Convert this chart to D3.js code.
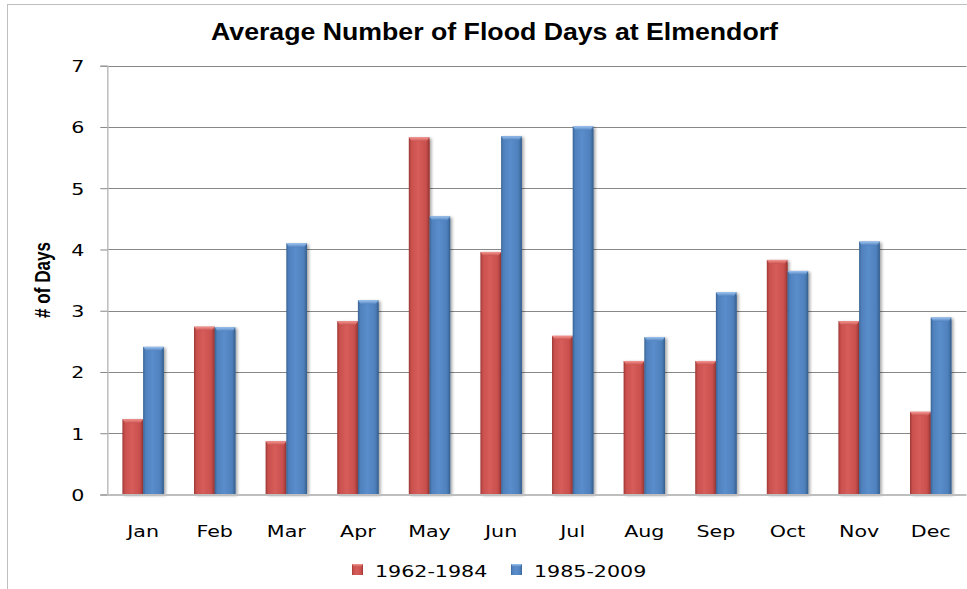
<!DOCTYPE html>
<html>
<head>
<meta charset="utf-8">
<script src="https://cdn.jsdelivr.net/npm/d3@7"></script>
<style>
  html, body { margin: 0; padding: 0; background: #fff; }
  svg { display: block; }
</style>
</head>
<body>
<svg id="chart" width="967" height="589"></svg>
<script>
// ---- data ----
const months = ["Jan","Feb","Mar","Apr","May","Jun","Jul","Aug","Sep","Oct","Nov","Dec"];
const seriesNames = ["1962-1984","1985-2009"];
const values1962_1984 = [1.23, 2.74, 0.87, 2.83, 5.83, 3.96, 2.59, 2.18, 2.18, 3.83, 2.83, 1.35];
const values1985_2009 = [2.41, 2.73, 4.10, 3.17, 4.54, 5.85, 6.01, 2.57, 3.30, 3.65, 4.13, 2.89];
const yTicks = [0, 1, 2, 3, 4, 5, 6, 7];
const titleText = "Average Number of Flood Days at Elmendorf";
const yAxisTitle = "# of Days";

// ---- styling ----
const palette = {
  "1962-1984": { base: "#C9504D", light: "#D65D5A", dark: "#9C3835", cap: "#F49893" },
  "1985-2009": { base: "#4F81BD", light: "#5A8DCB", dark: "#3A6494", cap: "#9CC3F0" }
};
const gridColor = "#878787";
const axisColor = "#BEBEBE";
const sx = 1.25; // horizontal stretch of text seen in the reference

const svg = d3.select("#chart");
const W = 967, H = 589;
const plot = { left: 107.3, right: 966.5, top: 65.7, bottom: 494.5 };

svg.append("rect").attr("width", W).attr("height", H).attr("fill", "#fff");

// chart frame (only left & top visible)
svg.append("rect")
  .attr("x", 7.5).attr("y", 4.5).attr("width", 1100).attr("height", 1000)
  .attr("fill", "none").attr("stroke", "#BFBFBF").attr("stroke-width", 1);

const defs = svg.append("defs");
const shadow = defs.append("filter").attr("id", "shadow")
  .attr("x", "-50%").attr("y", "-10%").attr("width", "200%").attr("height", "120%");
shadow.append("feGaussianBlur").attr("in", "SourceAlpha").attr("stdDeviation", 1.5).attr("result", "b");
shadow.append("feOffset").attr("in", "b").attr("dx", 2).attr("dy", 1).attr("result", "o");
shadow.append("feComponentTransfer").attr("in", "o").attr("result", "s")
  .append("feFuncA").attr("type", "linear").attr("slope", 0.35);
const merge = shadow.append("feMerge");
merge.append("feMergeNode").attr("in", "s");
merge.append("feMergeNode").attr("in", "SourceGraphic");

seriesNames.forEach((s, i) => {
  const c = palette[s];
  const g = defs.append("linearGradient").attr("id", "grad" + i)
    .attr("x1", "0").attr("x2", "1").attr("y1", "0").attr("y2", "0");
  g.append("stop").attr("offset", "0%").attr("stop-color", c.dark);
  g.append("stop").attr("offset", "12%").attr("stop-color", c.base);
  g.append("stop").attr("offset", "45%").attr("stop-color", c.light);
  g.append("stop").attr("offset", "82%").attr("stop-color", c.base);
  g.append("stop").attr("offset", "100%").attr("stop-color", c.dark);
  const cg = defs.append("linearGradient").attr("id", "cap" + i)
    .attr("x1", "0").attr("x2", "0").attr("y1", "0").attr("y2", "1");
  cg.append("stop").attr("offset", "0%").attr("stop-color", c.cap);
  cg.append("stop").attr("offset", "100%").attr("stop-color", c.base);
});

// ---- scales ----
const x0 = d3.scaleBand().domain(months).range([plot.left, plot.right]).padding(0);
const x1 = d3.scaleBand().domain(seriesNames).range([0, x0.bandwidth()])
  .paddingInner(0).paddingOuter(0.73);
const y = d3.scaleLinear().domain([0, 7]).range([plot.bottom, plot.top]);

// gridlines
svg.append("g").selectAll("line").data(yTicks.filter(d => d > 0)).join("line")
  .attr("x1", plot.left).attr("x2", plot.right)
  .attr("y1", d => Math.round(y(d)) + 0.5).attr("y2", d => Math.round(y(d)) + 0.5)
  .attr("stroke", gridColor).attr("stroke-width", 1);

// y axis with ticks
const yAxis = d3.axisLeft(y).tickValues(yTicks).tickSize(7).tickPadding(16).tickFormat(d3.format("d"));
const yg = svg.append("g").attr("transform", `translate(${plot.left},0)`).call(yAxis);
yg.select(".domain").attr("stroke", axisColor).attr("stroke-width", 1.5);
yg.selectAll(".tick line").attr("stroke", gridColor);
yg.selectAll(".tick text")
  .attr("font-family", "DejaVu Sans, Verdana, sans-serif")
  .attr("font-size", 16.5).attr("fill", "#000")
  .attr("dy", "0.36em")
  .attr("transform", function() {
    const xx = +d3.select(this).attr("x");
    return `translate(${xx},0) scale(${sx},1) translate(${-xx},0)`;
  });

// bars
const data = months.map((m, i) => ({ month: m, vals: [
  { s: seriesNames[0], v: values1962_1984[i], i: 0 },
  { s: seriesNames[1], v: values1985_2009[i], i: 1 }
]}));

const groups = svg.append("g").selectAll("g").data(data).join("g")
  .attr("transform", d => `translate(${x0(d.month)},0)`);

const bars = groups.selectAll("g.bar").data(d => d.vals).join("g").attr("class", "bar");
bars.append("rect")
  .attr("x", d => x1(d.s)).attr("width", x1.bandwidth())
  .attr("y", d => y(d.v)).attr("height", d => y(0) - y(d.v))
  .attr("fill", d => `url(#grad${d.i})`)
  .attr("filter", "url(#shadow)");
bars.append("path")
  .attr("d", d => {
    const xl = x1(d.s), w = x1.bandwidth(), t = y(d.v), b = 4;
    return `M${xl},${t} L${xl + w},${t} L${xl + w - 3},${t + b} L${xl + 3},${t + b} Z`;
  })
  .attr("fill", d => `url(#cap${d.i})`);
bars.append("line")
  .attr("x1", d => x1(d.s) + x1.bandwidth() - 0.5).attr("x2", d => x1(d.s) + x1.bandwidth() - 0.5)
  .attr("y1", d => y(d.v) + 3).attr("y2", y(0))
  .attr("stroke", d => palette[d.s].dark).attr("stroke-width", 1);

// x axis baseline
svg.append("line")
  .attr("x1", plot.left).attr("x2", plot.right)
  .attr("y1", y(0) + 0.5).attr("y2", y(0) + 0.5)
  .attr("stroke", axisColor).attr("stroke-width", 2);

// x labels
const xAxis = d3.axisBottom(x0).tickSize(0).tickPadding(0);
const xg = svg.append("g").attr("transform", `translate(0,${plot.bottom})`).call(xAxis);
xg.select(".domain").remove();
xg.selectAll(".tick text")
  .attr("font-family", "DejaVu Sans, Verdana, sans-serif")
  .attr("font-size", 16.5).attr("fill", "#000")
  .attr("y", 0).attr("dy", 0)
  .attr("transform", `translate(0,42) scale(${sx},1)`);

// title
svg.append("text")
  .attr("x", 494.5).attr("y", 40)
  .attr("text-anchor", "middle")
  .attr("font-family", "Liberation Sans Narrow, Arial Narrow, Liberation Sans, sans-serif")
  .attr("font-weight", "bold").attr("font-size", 24)
  .attr("textLength", 567).attr("lengthAdjust", "spacingAndGlyphs")
  .text(titleText);

// y axis title
svg.append("text")
  .attr("transform", "translate(50,280) rotate(-90)")
  .attr("text-anchor", "middle")
  .attr("font-family", "Liberation Sans Narrow, Arial Narrow, Liberation Sans, sans-serif")
  .attr("font-weight", "bold").attr("font-size", 22)
  .attr("textLength", 76).attr("lengthAdjust", "spacingAndGlyphs")
  .text(yAxisTitle);

// legend
const legendPos = [352, 511];
const lg = svg.append("g").selectAll("g").data(seriesNames).join("g")
  .attr("transform", (d, i) => `translate(${legendPos[i]},0)`);
lg.append("rect").attr("x", 0).attr("y", 564).attr("width", 11).attr("height", 11)
  .attr("fill", (d, i) => `url(#grad${i})`);
lg.append("path")
  .attr("d", "M0,564 L11,564 L9,567 L2,567 Z")
  .attr("fill", (d, i) => `url(#cap${i})`);
lg.append("text")
  .attr("font-family", "DejaVu Sans, Verdana, sans-serif")
  .attr("font-size", 16.5).attr("fill", "#000")
  .attr("transform", `translate(23,577) scale(${sx},1)`)
  .text(d => d);
</script>
</body>
</html>
